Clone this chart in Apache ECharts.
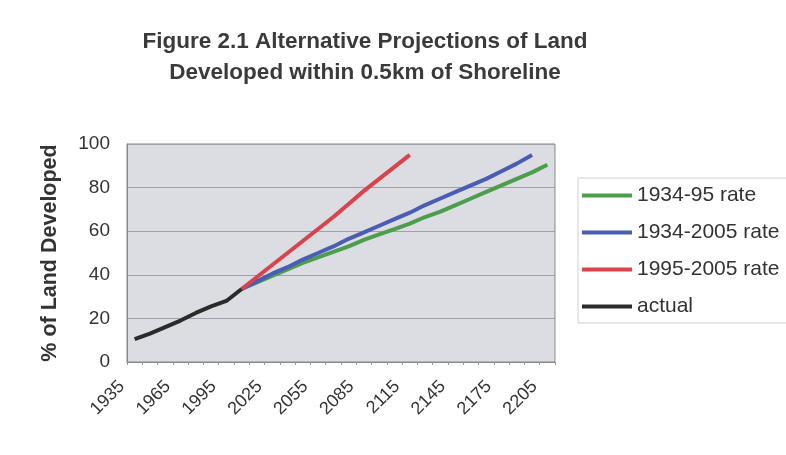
<!DOCTYPE html>
<html><head><meta charset="utf-8">
<script src="https://cdn.jsdelivr.net/npm/echarts@6/dist/echarts.min.js"></script>
<style>html,body{margin:0;padding:0;background:#fff}#c{width:786px;height:455px}</style>
</head><body><div id="c"></div>
<script>
const years = [];
for (let y = 1935; y <= 2205; y += 10) years.push(String(y));

const rate3495 = [null,null,null,null,null,null,null,33.5,36.5,39.5,42.5,45.5,48,50.5,53,56,58.5,61,63.5,66.5,69,72,75,78,81,84,87,90.5];
const rate3405 = [null,null,null,null,null,null,null,33.5,37,40.5,43.5,47,50,53,56.5,59.5,62.5,65.5,68.5,72,75,78,81,84,87.5,91,95,null];
const rate9505 = [null,null,null,null,null,null,null,33.5,39,44.5,50,55.5,61,66.5,72.5,78.5,84,89.5,95,null,null,null,null,null,null,null,null,null];
const actual   = [10.5,13,16,19,22.5,25.5,28,33.5,null,null,null,null,null,null,null,null,null,null,null,null,null,null,null,null,null,null,null,null];

const names = ['1934-95 rate','1934-2005 rate','1995-2005 rate','actual'];
const colors = ['#4c9e4c','#4a5db5','#d9434b','#2b2b2b'];
const datas = [rate3495, rate3405, rate9505, actual];

const chart = echarts.init(document.getElementById('c'));
chart.setOption({
  animation: false,
  title: {
    text: 'Figure 2.1 Alternative Projections of Land\nDeveloped within 0.5km of Shoreline',
    left: 360, top: 21, textAlign: 'center',
    textStyle: {fontFamily: 'Liberation Sans', fontWeight: 'bold', fontSize: 22.5, color: '#3a3a3a', lineHeight: 31}
  },
  legend: {
    orient: 'vertical', left: 578, top: 178,
    data: names.map((n,i)=>({name:n, icon:'rect'})),
    itemWidth: 50, itemHeight: 4, itemGap: 16,
    borderColor: '#cfcfcf', borderWidth: 1, padding: [7, 60, 6, 4],
    textStyle: {fontFamily: 'Liberation Sans', fontSize: 21, color: '#333'}
  },
  grid: {left: 127, top: 144, right: 231, bottom: 93, show: true, backgroundColor: '#dcdce3', borderColor: '#888', borderWidth: 1},
  xAxis: {
    type: 'category', data: years, boundaryGap: true,
    axisLine: {lineStyle: {color: '#888'}},
    axisTick: {show: true, interval: 0, length: 3, lineStyle: {color: '#999'}},
    axisLabel: {interval: 2, rotate: 45, fontFamily: 'Liberation Sans', fontSize: 18, color: '#333', margin: 9, padding: [0, 18, 0, 0]}
  },
  yAxis: {
    type: 'value', min: 0, max: 100, interval: 20,
    name: '% of Land Developed', nameLocation: 'middle', nameGap: 66, nameRotate: 90,
    nameTextStyle: {fontFamily: 'Liberation Sans', fontWeight: 'bold', fontSize: 21.5, color: '#333'},
    axisLine: {show: true, lineStyle: {color: '#888'}},
    axisTick: {show: false},
    splitLine: {lineStyle: {color: '#a0a0a8'}},
    axisLabel: {fontFamily: 'Liberation Sans', fontSize: 19, color: '#333', margin: 17}
  },
  series: names.map((n,i)=>({
    name: n, type: 'line', data: datas[i], showSymbol: false, connectNulls: false,
    lineStyle: {width: 4, color: colors[i]}, itemStyle: {color: colors[i]}, z: i===3 ? 5 : 3
  }))
});
</script></body></html>
